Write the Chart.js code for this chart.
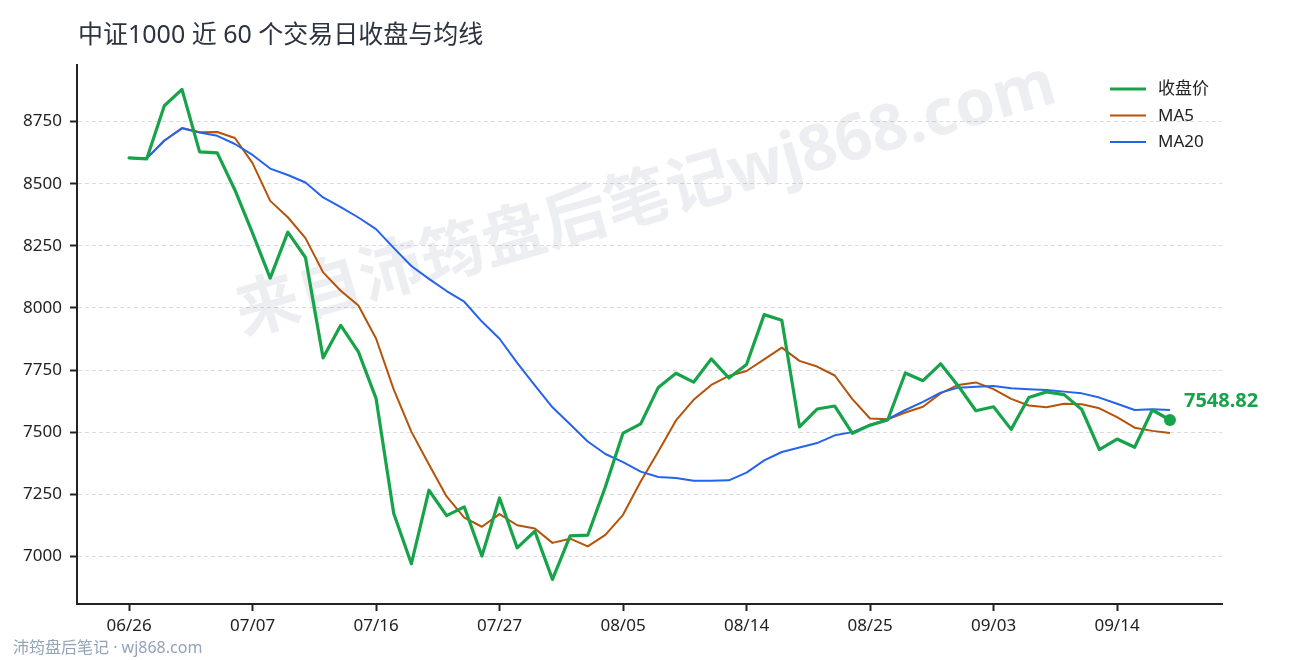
<!DOCTYPE html>
<html lang="zh-CN">
<head>
<meta charset="utf-8">
<title>中证1000 近 60 个交易日收盘与均线</title>
<script src="https://cdn.jsdelivr.net/npm/chart.js@4.4.1/dist/chart.umd.min.js"></script>
<style>
  html, body { margin: 0; padding: 0; background: #ffffff; }
  #chart { display: block; }
</style>
</head>
<body>
<canvas id="chart" width="1290" height="660" style="width:1290px;height:660px"></canvas>
<script>
// Data
const dates = [
  "06/26", "06/29", "06/30", "07/01", "07/02", "07/03", "07/06", "07/07", "07/08", "07/09",
  "07/10", "07/13", "07/14", "07/15", "07/16", "07/17", "07/20", "07/21", "07/22", "07/23",
  "07/24", "07/27", "07/28", "07/29", "07/30", "07/31", "08/03", "08/04", "08/05", "08/06",
  "08/07", "08/10", "08/11", "08/12", "08/13", "08/14", "08/17", "08/18", "08/19", "08/20",
  "08/21", "08/24", "08/25", "08/26", "08/27", "08/28", "08/31", "09/01", "09/02", "09/03",
  "09/04", "09/07", "09/08", "09/09", "09/10", "09/11", "09/14", "09/15", "09/16", "09/17"
];

const closes = [
  8604, 8600, 8814, 8880, 8628, 8624, 8475, 8301, 8120, 8305,
  8203, 7799, 7930, 7823, 7636, 7173, 6970, 7266, 7164, 7199,
  7001, 7235, 7034, 7101, 6907, 7082, 7085, 7280, 7496, 7533,
  7680, 7737, 7701, 7795, 7718, 7772, 7973, 7950, 7521, 7593,
  7605, 7495, 7528, 7549, 7738, 7707, 7775, 7686, 7586, 7602,
  7511, 7639, 7662, 7651, 7591, 7430, 7472, 7439, 7589, 7548.82
];

const ma5 = [
  8604, 8602, 8673, 8724, 8707, 8708, 8684, 8583, 8431, 8365,
  8281, 8143, 8069, 8010, 7877, 7672, 7502, 7370, 7241, 7156,
  7119, 7170, 7125, 7112, 7054, 7071, 7040, 7086, 7167, 7301,
  7422, 7547, 7630, 7690, 7726, 7746, 7793, 7840, 7787, 7764,
  7728, 7633, 7555, 7552, 7579, 7602, 7656, 7690, 7700, 7673,
  7634, 7607, 7600, 7614, 7612, 7596, 7560, 7518, 7505, 7496
];

const ma20 = [
  8604, 8602, 8674, 8723, 8706, 8693, 8660, 8616, 8561, 8535,
  8505, 8445, 8406, 8364, 8317, 8242, 8169, 8117, 8068, 8025,
  7945, 7876, 7779, 7688, 7600, 7532, 7462, 7412, 7379, 7341,
  7319, 7315, 7304, 7304, 7306, 7337, 7386, 7420, 7438, 7456,
  7487, 7500, 7530, 7552, 7589, 7622, 7659, 7679, 7683, 7686,
  7677, 7673, 7670, 7663, 7656, 7639, 7614, 7589, 7592, 7589
];

const xTickIdx = [0, 7, 14, 21, 28, 35, 42, 49, 56];
const yTicks = [7000, 7250, 7500, 7750, 8000, 8250, 8500, 8750];

const TITLE = "中证1000 近 60 个交易日收盘与均线";
const WATERMARK = "来自沛筠盘后笔记wj868.com";
const FOOTER = "沛筠盘后笔记 · wj868.com";

const FONT = '"Noto Sans", "Noto Sans CJK SC", sans-serif';
const GREEN = "#16a34a";
const ORANGE = "#b45309";
const BLUE = "#2563eb";
const AXIS = "#222222";

function toPoints(values) {
  return values.map((v, i) => ({ x: i, y: v }));
}

// ===== Plugins =====

// title, watermark and footer text
const decorPlugin = {
  id: "decor",
  beforeDatasetsDraw(chart) {
    const ctx = chart.ctx;
    ctx.save();
    ctx.translate(646, 201);
    ctx.rotate(-16 * Math.PI / 180);
    ctx.font = "bold 64px " + FONT;
    ctx.fillStyle = "rgba(100, 116, 139, 0.12)";
    ctx.textAlign = "center";
    ctx.textBaseline = "middle";
    ctx.fillText(WATERMARK, 0, 0);
    ctx.restore();
  },
  afterDraw(chart) {
    const ctx = chart.ctx;
    ctx.save();
    ctx.font = "25px " + FONT;
    ctx.fillStyle = "#2d3440";
    ctx.textAlign = "left";
    ctx.textBaseline = "middle";
    ctx.fillText(TITLE, 78, 36);

    ctx.font = "16px " + FONT;
    ctx.fillStyle = "#94a3b8";
    ctx.fillText(FOOTER, 13, 648);
    ctx.restore();
  }
};

// legend in the top right corner, plus the last close label
const legendPlugin = {
  id: "cornerLegend",
  afterDatasetsDraw(chart) {
    const ctx = chart.ctx;
    ctx.save();
    ctx.font = "17px " + FONT;
    ctx.textAlign = "left";
    ctx.textBaseline = "middle";
    chart.data.datasets.forEach((ds, i) => {
      const y = 89 + i * 26.5;
      ctx.strokeStyle = ds.borderColor;
      ctx.lineWidth = ds.borderWidth;
      ctx.beginPath();
      ctx.moveTo(1110, y);
      ctx.lineTo(1146, y);
      ctx.stroke();
      ctx.fillStyle = AXIS;
      ctx.fillText(ds.label, 1158, y + 0.5);
    });

    const meta = chart.getDatasetMeta(0);
    const last = meta.data[meta.data.length - 1];
    ctx.font = "bold 20px " + FONT;
    ctx.fillStyle = GREEN;
    ctx.fillText(closes[closes.length - 1].toFixed(2), last.x + 14, last.y - 19);
    ctx.restore();
  }
};

// ===== Chart =====

new Chart(document.getElementById("chart"), {
  type: "line",
  data: {
    datasets: [
      {
        label: "收盘价",
        data: toPoints(closes),
        borderColor: GREEN,
        backgroundColor: GREEN,
        borderWidth: 3.2,
        pointRadius: (c) => (c.dataIndex === closes.length - 1 ? 6 : 0),
        pointBackgroundColor: GREEN,
        pointBorderWidth: 0,
        tension: 0,
        borderJoinStyle: "round",
        borderCapStyle: "round",
        order: 0,
      },
      {
        label: "MA5",
        data: toPoints(ma5),
        borderColor: ORANGE,
        borderWidth: 2,
        pointRadius: 0,
        tension: 0,
        borderJoinStyle: "round",
        order: 2,
      },
      {
        label: "MA20",
        data: toPoints(ma20),
        borderColor: BLUE,
        borderWidth: 2,
        pointRadius: 0,
        tension: 0,
        borderJoinStyle: "round",
        order: 1,
      },
    ],
  },
  options: {
    responsive: false,
    animation: false,
    devicePixelRatio: 1,
    layout: { padding: { left: 0, top: 65, right: 68, bottom: 0 } },
    plugins: {
      legend: { display: false },
      title: { display: false },
      tooltip: { enabled: false },
    },
    scales: {
      x: {
        type: "linear",
        min: -2.95,
        max: 61.95,
        afterFit: (scale) => { scale.height = 56; },
        afterBuildTicks: (scale) => { scale.ticks = xTickIdx.map((v) => ({ value: v })); },
        ticks: {
          color: AXIS,
          font: { family: FONT, size: 17 },
          padding: 5,
          maxRotation: 0,
          autoSkip: false,
          callback: (v) => dates[v] || "",
        },
        grid: {
          drawOnChartArea: false,
          drawTicks: true,
          tickLength: 7,
          tickWidth: 2,
          tickColor: AXIS,
        },
        border: { display: true, color: AXIS, width: 2 },
      },
      y: {
        min: 6808,
        max: 8978,
        afterFit: (scale) => { scale.width = 77; },
        afterBuildTicks: (scale) => { scale.ticks = yTicks.map((v) => ({ value: v })); },
        ticks: {
          color: AXIS,
          font: { family: FONT, size: 17 },
          padding: 8,
          callback: (v) => String(v),
        },
        grid: {
          color: "#dcdcdc",
          lineWidth: 1,
          drawTicks: true,
          tickLength: 7,
          tickWidth: 2,
          tickColor: AXIS,
          tickBorderDash: [],
        },
        border: { display: true, color: AXIS, width: 2, dash: [4, 3] },
      },
    },
  },
  plugins: [decorPlugin, legendPlugin],
});
</script>
</body>
</html>
